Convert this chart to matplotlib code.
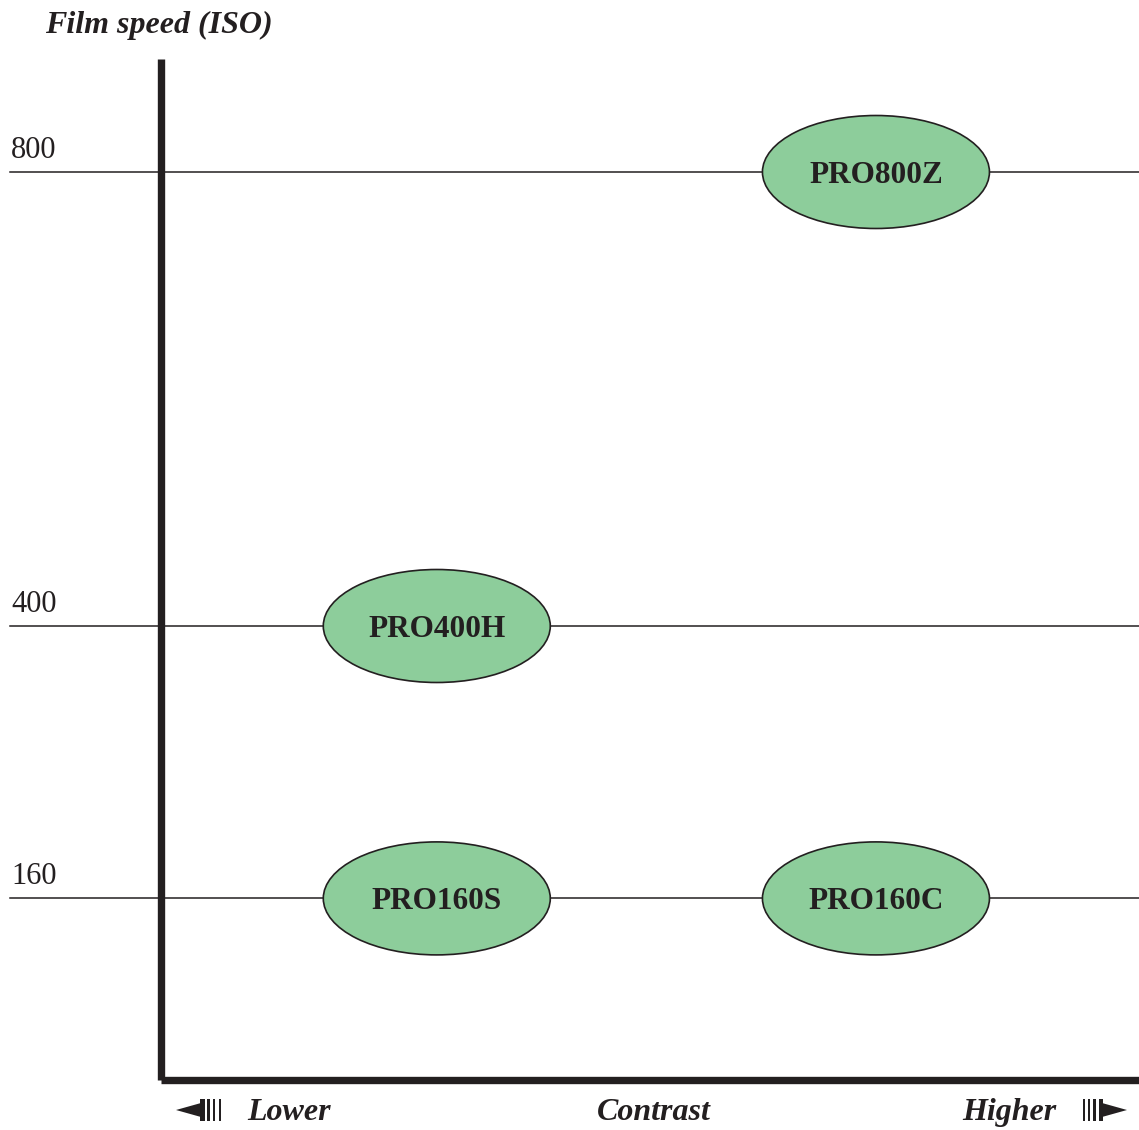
import matplotlib
matplotlib.use("Agg")
import matplotlib.pyplot as plt
from matplotlib.patches import Ellipse, Polygon, Rectangle
import matplotlib.transforms as mtransforms

# ---- data ----
films = ["PRO800Z", "PRO400H", "PRO160S", "PRO160C"]
film_iso = [800, 400, 160, 160]
film_contrast = [2, 1, 1, 2]          # 1 = lower contrast, 2 = higher contrast
iso_levels = [800, 400, 160]
iso_labels = ["800", "400", "160"]
y_title = "Film speed (ISO)"
x_labels = ["Lower", "Contrast", "Higher"]

INK = "#231f20"
FILL = "#8dcd9b"
SERIF = ["Liberation Serif", "DejaVu Serif"]

W, H = 1139, 1130
fig = plt.figure(figsize=(W / 100, H / 100), dpi=100)
fig.patch.set_facecolor("white")

# main axes (plot area)
left, right, top, bottom = 161, 1139, 59, 1080
ax = fig.add_axes([left / W, (H - bottom) / H, (right - left) / W, (bottom - top) / H])
XMIN, XMAX = 0.372, 2.599
YMAX = 800 * (bottom - top) / (bottom - 172)
ax.set_xlim(XMIN, XMAX)
ax.set_ylim(0, YMAX)
ax.set_facecolor("none")
for s in ["top", "right"]:
    ax.spines[s].set_visible(False)
for s in ["left", "bottom"]:
    ax.spines[s].set_linewidth(5.3)
    ax.spines[s].set_color(INK)
    ax.spines[s].set_capstyle("butt")
ax.set_xticks([])
ax.set_yticks([])

# horizontal ISO lines + labels
line_start = (10 - left) / (right - left)
lab_tr = mtransforms.offset_copy(ax.get_yaxis_transform(), fig=fig, x=0, y=14, units="dots")
for lvl, lab in zip(iso_levels, iso_labels):
    ax.axhline(lvl, xmin=line_start, xmax=1, color=INK, lw=1.1, zorder=1, clip_on=False)
    ax.text(line_start + 1 / (right - left), lvl, lab, transform=lab_tr, ha="left",
            va="baseline", fontsize=22, family=SERIF, color=INK)

# ellipses
ell_w = 227 / (right - left) * (XMAX - XMIN)
ell_h = 113 / (bottom - top) * YMAX
name_tr = mtransforms.offset_copy(ax.transData, fig=fig, x=0, y=-11, units="dots")
for name, iso, c in zip(films, film_iso, film_contrast):
    e = Ellipse((c, iso), ell_w, ell_h, facecolor=FILL, edgecolor=INK, lw=1.2, zorder=3)
    ax.add_patch(e)
    ax.text(c, iso, name, transform=name_tr, ha="center", va="baseline", fontsize=22.5,
            fontweight="bold", family=SERIF, color=INK, zorder=4)

# overlay for titles and arrow decorations (pixel coordinates)
ov = fig.add_axes([0, 0, 1, 1], zorder=5)
ov.set_xlim(0, W)
ov.set_ylim(H, 0)
ov.axis("off")
ov.patch.set_alpha(0)

kw = dict(fontsize=23, fontweight="bold", fontstyle="italic", family=SERIF, color=INK,
          va="baseline")
ov.text(45, 33, y_title, ha="left", **kw)
ov.text(247, 1120, x_labels[0], ha="left", **kw)
ov.text(654, 1120, x_labels[1], ha="center", **kw)
ov.text(1056, 1120, x_labels[2], ha="right", **kw)

yc = 1110
# left arrow: triangle then bars
ov.add_patch(Polygon([[176, yc], [201, yc - 7], [201, yc + 7]], closed=True, color=INK, lw=0))
for x0, w in [(200, 4.5), (206.5, 3.5), (212.5, 2.8), (218.5, 2.2)]:
    ov.add_patch(Rectangle((x0, yc - 11), w, 22, color=INK, lw=0))
# right arrow: bars then triangle
for x0, w in [(1083, 2.2), (1087.5, 2.8), (1092.5, 3.5), (1098.5, 4.5)]:
    ov.add_patch(Rectangle((x0, yc - 11), w, 22, color=INK, lw=0))
ov.add_patch(Polygon([[1102, yc - 7], [1102, yc + 7], [1127, yc]], closed=True, color=INK, lw=0))

fig.savefig("out.png", dpi=100)
